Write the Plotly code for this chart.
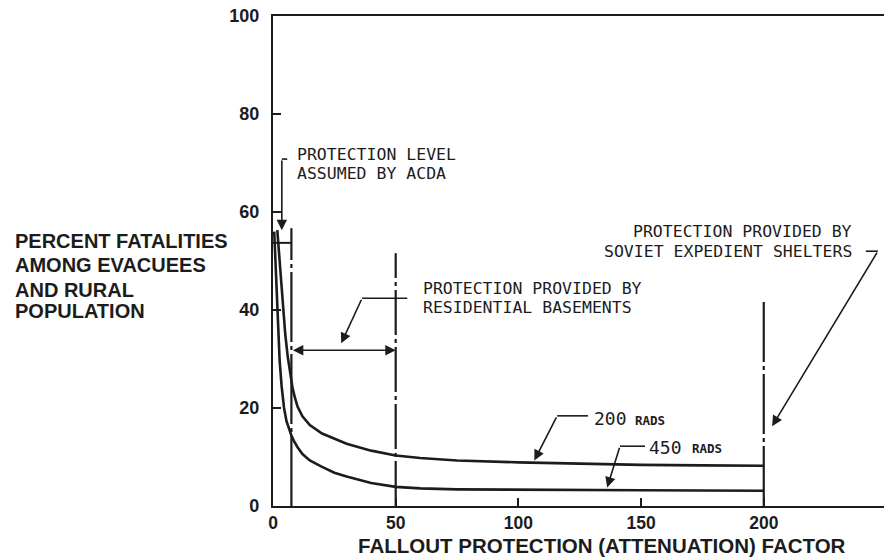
import plotly.graph_objects as go

# Fatality curves: percent fatalities vs. fallout protection factor
pf_200 = [1.75, 3, 4, 5, 6, 7, 8, 9, 10, 12, 15, 20, 25, 30, 40, 50, 60, 75, 100, 125, 150, 175, 200]
fat_200 = [56.3, 48, 41.5, 35, 30.5, 26.8, 24, 22, 20.3, 18.3, 16.5, 14.8, 13.7, 12.7, 11.3, 10.3, 9.8, 9.3, 8.9, 8.6, 8.4, 8.3, 8.2]

pf_450 = [0.5, 1, 1.5, 2, 2.7, 3.5, 4.5, 5.5, 6.5, 7.5, 8.5, 10, 12, 15, 20, 25, 30, 40, 50, 60, 75, 100, 150, 200]
fat_450 = [56, 50, 43.5, 37.5, 29.7, 24.5, 20, 17.3, 15.8, 14.4, 13.3, 12.0, 10.6, 9.3, 8.0, 6.8, 6.0, 4.7, 3.9, 3.6, 3.4, 3.3, 3.2, 3.1]

# Protection levels marked by vertical lines (ACDA, basements, Soviet shelters)
protection_levels = [7.5, 50, 200]
level_tops = [56.7, 51.6, 42.4]
level_dashes = ["70px,4px,4px,4px", "45px,4px,4px,4px", "60px,4px,4px,4px"]

x_ticks = [0, 50, 100, 150, 200]
y_ticks = [0, 20, 40, 60, 80, 100]

INK = "#1c1c1c"
SANS = "Liberation Sans, Arial, sans-serif"
MONO = "DejaVu Sans Mono, monospace"

fig = go.Figure()

for x_lvl, top, dash in zip(protection_levels, level_tops, level_dashes):
    fig.add_trace(go.Scatter(x=[x_lvl, x_lvl], y=[0, top], mode="lines",
                             line=dict(color=INK, width=2.2, dash=dash),
                             hoverinfo="skip", showlegend=False))

fig.add_trace(go.Scatter(x=pf_200, y=fat_200, mode="lines", name="200 RADS",
                         line=dict(color=INK, width=2.6), showlegend=False))
fig.add_trace(go.Scatter(x=pf_450, y=fat_450, mode="lines", name="450 RADS",
                         line=dict(color=INK, width=2.6), showlegend=False))


def seg(x0, y0, x1, y1, width=1.6):
    fig.add_shape(type="line", xref="x", yref="y", x0=x0, y0=y0, x1=x1, y1=y1,
                  line=dict(color=INK, width=width))


def arrow(x0, y0, x1, y1, both=False):
    fig.add_annotation(x=x1, y=y1, ax=x0, ay=y0, xref="x", yref="y",
                       axref="x", ayref="y", text="", showarrow=True,
                       arrowhead=2, arrowsize=1.3, arrowwidth=1.6,
                       arrowcolor=INK, standoff=0, startstandoff=0,
                       startarrowhead=2, startarrowsize=1.3,
                       arrowside="end+start" if both else "end")


def label(x, y, text, size=16.5, anchor="left", family=MONO, bold=False):
    fig.add_annotation(x=x, y=y, xref="x", yref="y", text=text, showarrow=False,
                       xanchor=anchor, yanchor="middle",
                       font=dict(family=family, size=size, color=INK,
                                 weight="bold" if bold else "normal"))


# ACDA protection level
seg(0, 53.7, protection_levels[0], 53.7, width=2)
seg(3.6, 70.8, 5.8, 70.8)
arrow(3.6, 70.8, 3.6, 56.3)
label(9.1, 71.8, "PROTECTION LEVEL")
label(9.1, 67.9, "ASSUMED BY ACDA")

# Residential basements range
arrow(protection_levels[0], 31.8, protection_levels[1], 31.8, both=True)
seg(36.3, 42.4, 54.7, 42.4)
arrow(36.3, 42.4, 27.8, 33.2)
label(60.2, 44.3, "PROTECTION PROVIDED BY")
label(60.2, 40.5, "RESIDENTIAL BASEMENTS")

# Soviet expedient shelters
label(236.6, 56.1, "PROTECTION PROVIDED BY", anchor="right")
label(236.6, 51.9, "SOVIET EXPEDIENT SHELTERS", anchor="right")
seg(241.6, 52.0, 246.5, 52.0)
arrow(246.5, 52.0, 203.4, 16.3)

# Curve labels
seg(115.8, 18.4, 128.4, 18.4)
arrow(115.8, 18.4, 106.5, 9.3)
label(130.1, 17.9, "200", size=18)
label(146.8, 17.5, "RADS", size=12.5, bold=True)

seg(141.4, 12.2, 151.6, 12.2)
arrow(141.4, 12.2, 136.2, 3.8)
label(152.5, 12.0, "450", size=18)
label(170.0, 11.7, "RADS", size=12.5, bold=True)

# Axis titles
for yv, line in zip([54.0, 49.2, 44.1, 39.7],
                    ["PERCENT FATALITIES", "AMONG EVACUEES", "AND RURAL", "POPULATION"]):
    fig.add_annotation(x=-0.4255, y=yv, xref="paper", yref="y", text=line,
                       showarrow=False, xanchor="left", yanchor="middle",
                       font=dict(family=SANS, size=20, color=INK, weight="bold"))

fig.add_annotation(x=0.1375, y=-0.106, xref="paper", yref="paper",
                   text="FALLOUT PROTECTION (ATTENUATION) FACTOR",
                   showarrow=False, xanchor="left", yanchor="bottom", borderpad=0,
                   font=dict(family=SANS, size=20.5, color=INK, weight="bold"))

fig.update_layout(
    width=884, height=558, autosize=False,
    margin=dict(l=273, r=0, t=16, b=52),
    paper_bgcolor="white", plot_bgcolor="white",
    xaxis=dict(range=[0, 249], tickvals=x_ticks, ticks="inside", ticklen=8,
               tickwidth=2, tickcolor=INK, showline=True, linewidth=2.2,
               linecolor=INK, mirror=True, showgrid=False, zeroline=False,
               ticklabelstandoff=0,
               tickfont=dict(family=SANS, size=17.5, color=INK, weight="bold")),
    yaxis=dict(range=[0, 100], tickvals=y_ticks, ticks="inside", ticklen=8,
               tickwidth=2, tickcolor=INK, showline=True, linewidth=2.2,
               linecolor=INK, showgrid=False, zeroline=False,
               ticklabelstandoff=8,
               tickfont=dict(family=SANS, size=18, color=INK, weight="bold")),
)

fig.write_html("out.html")
